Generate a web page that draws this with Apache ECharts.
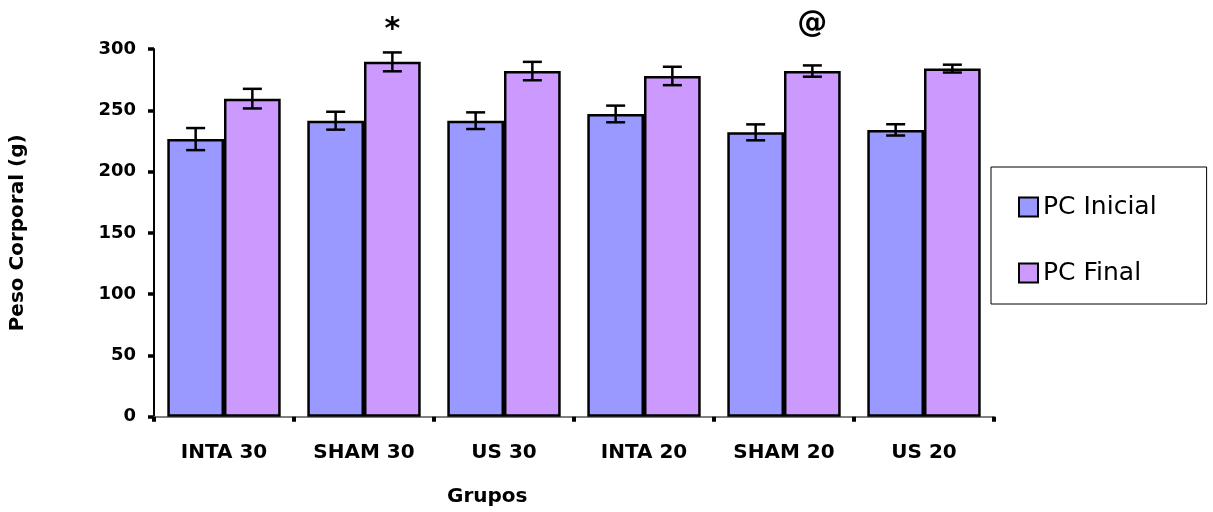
<!DOCTYPE html>
<html>
<head>
<meta charset="utf-8">
<script src="https://cdn.jsdelivr.net/npm/echarts@6/dist/echarts.min.js"></script>
<style>
html,body{margin:0;padding:0;background:#fff;}
#chart{width:1213px;height:512px;}
</style>
</head>
<body>
<div id="chart"></div>
<script>
const categories = ['INTA 30', 'SHAM 30', 'US 30', 'INTA 20', 'SHAM 20', 'US 20'];
const pcInicial = [226.5, 241.5, 241.5, 247, 232, 234];
const pcFinal = [259.5, 289.5, 282, 278, 282, 284];
const errInicial = [9, 7.3, 6.8, 6.8, 6.5, 4.6];
const errFinal = [8, 7.7, 7.5, 7.5, 4.6, 3.2];
const seriesNames = ['PC Inicial', 'PC Final'];
const yTicks = [0, 50, 100, 150, 200, 250, 300];
const annotationText = ['*', '@'];
const annotationCategory = ['SHAM 30', 'SHAM 20'];

const FONT = 'DejaVu Sans';
const chart = echarts.init(document.getElementById('chart'));
const CAT_GAP = 0.19;

function errorRender(side) {
  return function (params, api) {
    const idx = api.value(0), val = api.value(1), err = api.value(2);
    const c = api.coord([idx, val]);
    const bw = api.size([1, 0])[0] * (1 - CAT_GAP) / 2;
    const x = c[0] + (side === 0 ? -bw / 2 : bw / 2);
    const yt = api.coord([idx, val + err])[1];
    const yb = api.coord([idx, val - err])[1];
    const hw = 9.5;
    const st = { stroke: '#000', lineWidth: 2.5 };
    return {
      type: 'group',
      children: [
        { type: 'line', shape: { x1: x, y1: yt, x2: x, y2: yb }, style: st },
        { type: 'line', shape: { x1: x - hw, y1: yt, x2: x + hw, y2: yt }, style: st },
        { type: 'line', shape: { x1: x - hw, y1: yb, x2: x + hw, y2: yb }, style: st }
      ]
    };
  };
}

const option = {
  animation: false,
  backgroundColor: '#fff',
  textStyle: { fontFamily: FONT },
  title: {
    text: 'Grupos',
    left: 442, top: 482,
    textStyle: { fontFamily: FONT, fontWeight: 'bold', fontSize: 20, color: '#000' }
  },
  grid: { left: 154, top: 49, width: 840, height: 367.7, containLabel: false },
  legend: {
    data: seriesNames,
    orient: 'vertical',
    left: 991, top: 167,
    padding: [25, 50, 16, 27],
    itemWidth: 19, itemHeight: 19,
    itemGap: 36,
    itemTextGap: 7,
    borderColor: '#000', borderWidth: 1,
    icon: 'rect',
    textStyle: { fontFamily: FONT, fontSize: 25, color: '#000', lineHeight: 30 }
  },
  xAxis: {
    type: 'category',
    data: categories,
    axisLine: { lineStyle: { color: '#808080', width: 2 } },
    axisTick: { show: true, length: 5, lineStyle: { color: '#000', width: 4 } },
    axisLabel: { margin: 26, color: '#000', fontFamily: FONT, fontWeight: 'bold', fontSize: 20 }
  },
  yAxis: {
    type: 'value',
    min: 0, max: 300, interval: 50,
    name: 'Peso Corporal (g)',
    nameLocation: 'middle',
    nameGap: 126,
    nameTextStyle: { color: '#000', fontFamily: FONT, fontWeight: 'bold', fontSize: 20 },
    splitLine: { show: false },
    axisLine: { show: true, lineStyle: { color: '#000', width: 2 } },
    axisTick: { show: true, length: 6, lineStyle: { color: '#000', width: 3.5 } },
    axisLabel: { margin: 18, color: '#000', fontFamily: FONT, fontWeight: 'bold', fontSize: 18,
      formatter: v => yTicks.indexOf(v) >= 0 ? String(v) : '' }
  },
  series: [
    {
      name: seriesNames[0], type: 'bar', data: pcInicial,
      barGap: '0%', barCategoryGap: (CAT_GAP * 100) + '%',
      itemStyle: { color: '#9999FF', borderColor: '#000', borderWidth: 2.5 }
    },
    {
      name: seriesNames[1], type: 'bar', data: pcFinal,
      barGap: '0%', barCategoryGap: (CAT_GAP * 100) + '%',
      itemStyle: { color: '#CC99FF', borderColor: '#000', borderWidth: 2.5 }
    },
    {
      name: 'errInicial', type: 'custom', z: 5,
      renderItem: errorRender(0),
      encode: { x: 0, y: 1 },
      data: pcInicial.map((v, i) => [i, v, errInicial[i]])
    },
    {
      name: 'errFinal', type: 'custom', z: 5,
      renderItem: errorRender(1),
      encode: { x: 0, y: 1 },
      data: pcFinal.map((v, i) => [i, v, errFinal[i]])
    }
  ]
};
chart.setOption(option);

// significance marks above the "PC Final" bar of their groups
const catW = chart.convertToPixel({ gridIndex: 0 }, [1, 0])[0] - chart.convertToPixel({ gridIndex: 0 }, [0, 0])[0];
const topY = chart.convertToPixel({ gridIndex: 0 }, [0, 300])[1];
const marks = annotationText.map((t, k) => {
  const i = categories.indexOf(annotationCategory[k]);
  const p = chart.convertToPixel({ gridIndex: 0 }, [i, 300]);
  const x = p[0] + catW * (1 - CAT_GAP) / 4;
  return {
    type: 'text',
    x: x, y: topY - (t === '*' ? 19 : 25),
    style: { text: t, fill: '#000', font: 'bold 30px "' + FONT + '"', align: 'center', verticalAlign: 'middle' },
    z: 10
  };
});
chart.setOption({ graphic: marks });
</script>
</body>
</html>
